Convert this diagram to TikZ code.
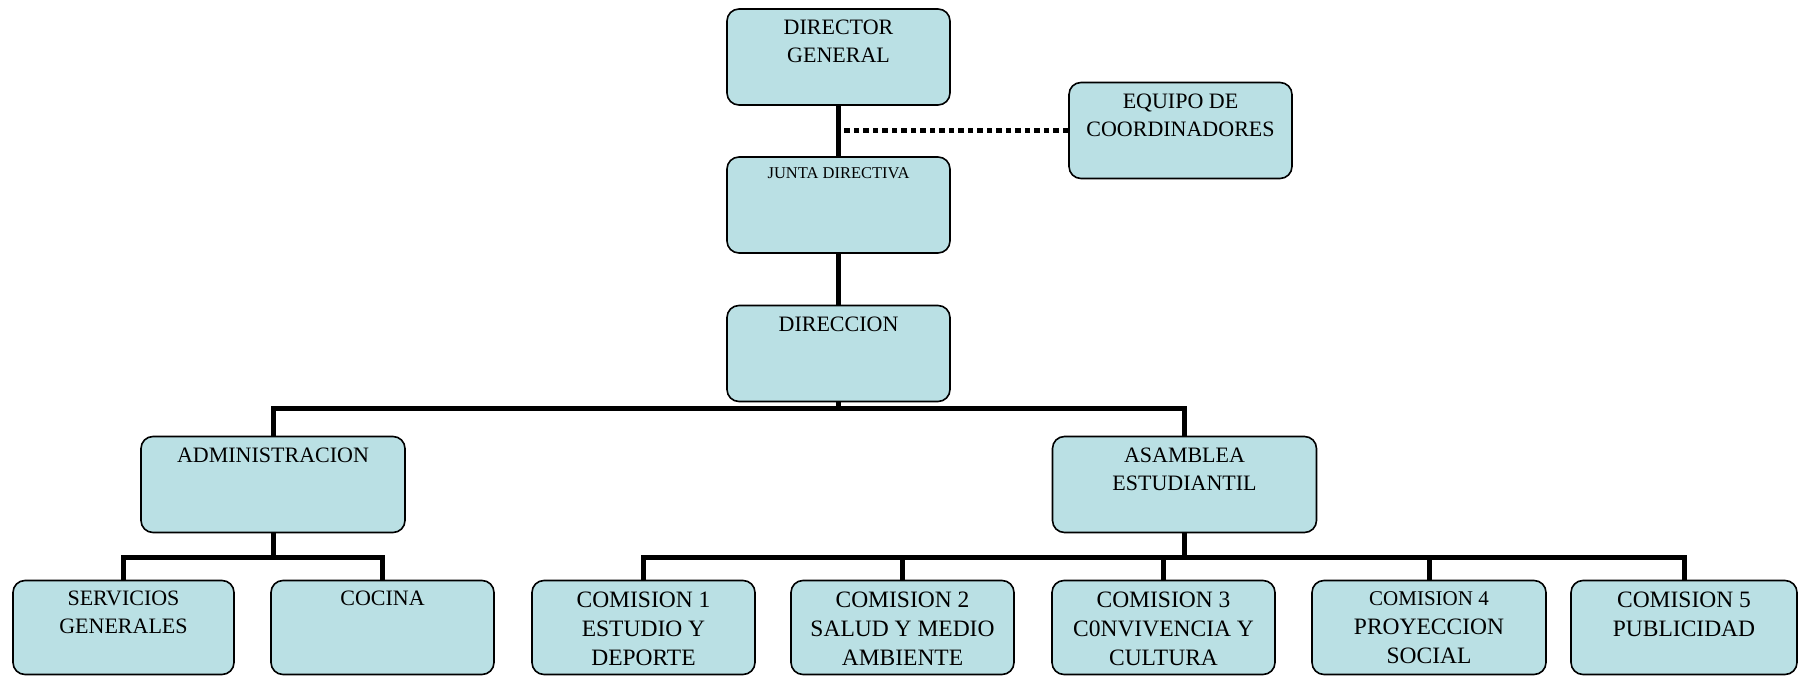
\documentclass[tikz,border=0pt]{standalone}
\usepackage{fontspec}
\setmainfont{Liberation Serif}
\usetikzlibrary{calc}

\definecolor{boxfill}{RGB}{186,224,228}
\newcommand{\toptext}[2][22]{\parbox[c][74pt][t]{215pt}{\centering\fontsize{#1}{28}\selectfont #2}}
\newcommand{\comtext}[1]{\parbox[c][72pt][t]{215pt}{\centering\fontsize{23.5}{29}\selectfont #1}}

\begin{document}
\begin{tikzpicture}[x=1pt, y=-1pt,
  orgbox/.style={draw, line width=1.6pt, fill=boxfill, rounded corners=12pt,
    minimum width=223pt, minimum height=96pt, inner sep=0pt},
  conn/.style={line width=5pt},
  dotconn/.style={line width=4.5pt, dash pattern=on 5.5pt off 4pt}]
\useasboundingbox (0,0) rectangle (1801,676);

\node[orgbox] (dirgen) at (838.5,57) {\toptext{DIRECTOR\\GENERAL}};
\node[orgbox] (equipo) at (1180.5,130.5) {\toptext{EQUIPO DE\\COORDINADORES}};
\node[orgbox] (junta) at (838.5,205) {\toptext[16.5]{JUNTA DIRECTIVA}};
\node[orgbox] (direccion) at (838.5,353.5) {\toptext{DIRECCION}};

\node[orgbox, minimum width=264pt] (admin) at (273,484.5) {\toptext{ADMINISTRACION}};
\node[orgbox, minimum width=264pt] (asamblea) at (1184.5,484.5) {\toptext{ASAMBLEA\\ESTUDIANTIL}};

\node[orgbox, minimum width=221pt, minimum height=94pt] (servicios) at (123.5,627.5) {\toptext{SERVICIOS\\GENERALES}};
\node[orgbox, minimum height=94pt] (cocina) at (382.5,627.5) {\toptext{COCINA}};

\node[orgbox, minimum height=94pt] (com1) at (643.5,627.5) {\comtext{COMISION 1\\ESTUDIO Y\\DEPORTE}};
\node[orgbox, minimum height=94pt] (com2) at (902.5,627.5) {\comtext{COMISION 2\\SALUD Y MEDIO\\AMBIENTE}};
\node[orgbox, minimum height=94pt] (com3) at (1163.5,627.5) {\comtext{COMISION 3\\C0NVIVENCIA Y\\CULTURA}};
\node[orgbox, minimum width=234pt, minimum height=94pt] (com4) at (1429,627.5) {\comtext{{\fontsize{21}{29}\selectfont COMISION 4}\\PROYECCION\\SOCIAL}};
\node[orgbox, minimum width=226pt, minimum height=94pt] (com5) at (1684,627.5) {\comtext{COMISION 5\\PUBLICIDAD}};

\coordinate (bus1) at (838.5,408);
\coordinate (bus2) at (273,557);
\coordinate (bus3) at (1184.5,557);

\draw[conn] (dirgen.south) -- (junta.north);
\draw[dotconn] (equipo.west) -- (equipo.west -| dirgen.south);
\draw[conn] (junta.south) -- (direccion.north);

\draw[conn] (direccion.south) -- (bus1);
\draw[conn] (admin.north) |- (bus1) -| (asamblea.north);

\draw[conn] (admin.south) -- (bus2);
\draw[conn] (servicios.north) |- (bus2) -| (cocina.north);

\draw[conn] (asamblea.south) -- (bus3);
\draw[conn] (com1.north) |- (bus3) -| (com5.north);
\foreach \c in {com2, com3, com4}
  \draw[conn] (\c.north) -- (\c.north |- bus3);
\end{tikzpicture}
\end{document}
